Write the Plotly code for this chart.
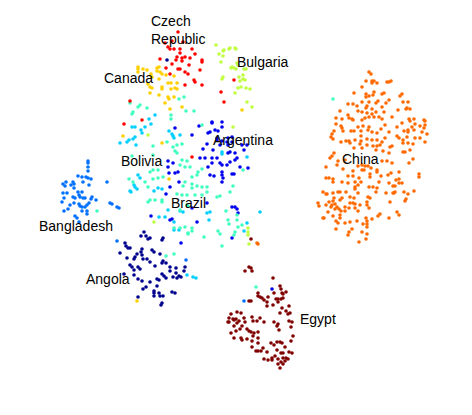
import plotly.graph_objects as go

# positions, one list of (x, y) per country
czech = [(178,32),(183,42),(172,41),(165,43),(168,47),(170,49),(174,49),(180,49),(192,49),(180,53),(195,54),(177,57),(182,58),(185,57),(190,58),(176,60),(182,61),(189,65),(202,60),(202,62),(160,59),(172,64),(166,68),(178,69),(180,69),(200,70),(185,72),(188,74),(170,74),(194,80),(195,82),(185,85),(202,85),(130,101),(142,120),(124,124),(221,92),(224,102),(234,80),(192,157)]
canada = [(138,67),(138,69),(138,72),(143,69),(147,70),(151,74),(152,77),(157,68),(159,67),(157,71),(160,72),(162,74),(159,79),(166,75),(174,76),(148,84),(150,87),(152,88),(150,93),(168,83),(171,83),(177,83),(162,87),(162,89),(171,89),(175,88),(177,89),(159,95),(168,97),(169,99),(174,97),(165,103),(170,109),(182,107),(242,110),(123,136),(162,143),(169,179),(137,301)]
bulgaria = [(216,45),(219,54),(223,51),(224,50),(229,49),(230,48),(235,48),(236,49),(223,56),(221,62),(237,63),(238,65),(231,68),(232,67),(234,68),(236,69),(244,69),(246,69),(223,77),(222,79),(243,75),(239,77),(243,79),(240,81),(245,80),(241,87),(238,88),(246,88),(250,89),(235,93),(247,102),(252,107),(233,127),(148,135),(154,222),(248,228),(248,232),(248,235),(249,244)]
bangladesh = [(88,161),(88,163),(88,167),(88,171),(78,176),(82,177),(86,177),(88,178),(91,179),(83,182),(89,185),(107,182),(63,184),(66,182),(65,186),(71,185),(73,182),(74,184),(74,188),(78,192),(82,192),(63,193),(67,193),(73,197),(75,198),(79,195),(80,197),(83,198),(85,198),(92,197),(91,199),(96,200),(64,198),(62,202),(74,203),(79,204),(80,206),(70,205),(82,207),(85,207),(87,205),(89,203),(64,211),(68,209),(82,211),(87,211),(87,214),(75,216),(77,218),(79,222),(110,203),(112,204),(117,207),(119,208),(117,241),(186,260),(244,301)]
bolivia = [(132,127),(141,130),(145,127),(142,133),(120,143),(127,142),(129,140),(133,139),(135,137),(136,145),(169,131),(172,134),(173,136),(174,138),(180,135),(138,175),(140,178),(134,185),(135,187),(137,189),(130,191),(131,192),(154,191),(158,188),(162,189),(168,210),(159,217),(165,217),(180,211),(183,212),(207,213),(210,212),(209,220),(174,222),(247,223),(244,231),(260,212),(222,152),(222,154),(247,157),(155,115),(149,119),(151,124),(135,127),(174,230),(179,230),(187,275),(193,277),(196,278)]
brazil = [(130,103),(140,105),(138,107),(147,108),(133,112),(132,114),(171,115),(171,119),(179,99),(184,97),(186,111),(194,111),(202,125),(153,146),(182,144),(177,145),(167,142),(173,147),(175,151),(177,153),(153,155),(132,156),(150,172),(153,170),(158,170),(182,160),(187,161),(180,165),(185,167),(190,167),(202,169),(198,172),(197,175),(192,177),(153,179),(158,178),(163,177),(129,179),(133,182),(145,182),(148,187),(185,182),(183,186),(192,184),(192,188),(197,186),(202,187),(207,187),(177,194),(182,195),(187,195),(195,195),(202,195),(207,192),(217,197),(220,196),(230,192),(233,186),(148,202),(150,200),(155,200),(162,200),(162,202),(187,205),(188,206),(180,210),(226,211),(228,220),(229,224),(235,232),(234,235),(238,227),(242,225),(237,220),(237,215),(218,231),(220,234),(222,246),(204,237),(174,228),(180,228),(192,228),(192,231),(188,233),(243,170),(166,256),(174,254),(185,227),(188,234),(97,211),(256,287),(333,99)]
argentina = [(175,128),(192,135),(199,126),(212,122),(212,123),(222,122),(222,127),(215,130),(210,132),(208,133),(218,131),(217,140),(228,138),(232,137),(227,142),(222,141),(217,138),(207,144),(203,149),(200,158),(205,158),(213,150),(220,145),(228,145),(232,142),(242,145),(247,145),(244,150),(230,152),(235,153),(228,153),(217,158),(212,158),(212,163),(208,167),(210,175),(214,176),(220,163),(222,165),(227,165),(230,162),(235,160),(237,158),(240,167),(248,168),(222,172),(222,175),(223,178),(222,182),(232,174),(234,174),(168,161),(173,163),(168,167),(169,173),(175,173),(178,172),(179,182),(170,187),(166,194),(197,222),(151,216),(170,220),(172,219),(181,243),(232,207),(235,207),(237,209),(238,213),(232,238),(192,208),(207,203),(272,289)]
angola = [(167,60),(144,232),(141,236),(146,236),(148,239),(150,238),(162,240),(163,238),(125,243),(126,246),(128,248),(130,248),(120,253),(142,249),(141,252),(137,254),(135,257),(142,255),(143,259),(134,259),(127,258),(147,259),(150,262),(152,250),(154,252),(160,254),(163,261),(162,263),(166,263),(155,266),(130,265),(132,267),(138,267),(140,269),(134,270),(124,274),(134,275),(138,279),(142,281),(170,267),(170,271),(176,268),(176,273),(179,276),(181,277),(185,267),(184,271),(162,274),(164,276),(166,278),(173,277),(177,278),(157,279),(159,280),(150,282),(146,287),(143,289),(157,286),(154,291),(154,293),(154,296),(159,293),(160,296),(163,296),(172,292),(175,293),(138,297),(161,305),(162,303)]
egypt = [(249,267),(251,268),(252,271),(245,271),(273,278),(280,286),(281,289),(286,292),(283,294),(282,293),(274,293),(258,293),(258,296),(260,297),(262,298),(264,300),(268,297),(267,302),(267,306),(273,305),(278,302),(276,299),(278,299),(281,299),(283,298),(249,301),(251,301),(282,308),(289,306),(286,311),(288,314),(290,313),(280,313),(289,321),(292,322),(291,327),(274,322),(278,324),(277,326),(279,330),(293,336),(291,341),(231,314),(229,318),(233,319),(228,322),(234,320),(236,319),(237,312),(241,313),(244,318),(245,322),(239,321),(237,323),(229,322),(234,326),(252,317),(253,321),(257,321),(260,318),(264,322),(242,326),(240,329),(236,331),(231,333),(247,329),(249,331),(251,332),(254,333),(258,332),(253,336),(258,338),(247,339),(241,338),(242,340),(234,338),(252,341),(252,347),(258,343),(258,351),(256,351),(261,351),(263,348),(267,352),(271,343),(274,345),(277,342),(280,342),(282,343),(285,347),(277,350),(281,353),(283,353),(289,352),(292,353),(275,356),(272,358),(272,360),(264,359),(268,360),(278,359),(283,358),(286,358),(288,359),(281,362),(285,361),(278,364),(283,364),(280,368),(251,239)]
china = [(369,72),(371,74),(366,81),(372,81),(374,81),(372,83),(377,83),(362,87),(387,82),(389,82),(391,81),(354,93),(366,94),(374,92),(369,96),(366,97),(373,95),(382,94),(384,93),(402,94),(400,96),(389,100),(362,102),(369,102),(376,103),(378,101),(386,103),(348,104),(353,104),(357,106),(367,106),(366,108),(382,107),(403,102),(408,102),(358,111),(372,109),(362,112),(367,113),(372,114),(376,112),(384,112),(398,110),(406,109),(407,108),(410,109),(340,111),(348,115),(349,118),(352,119),(353,120),(362,120),(365,118),(369,117),(374,117),(379,117),(382,119),(392,117),(336,118),(342,119),(336,124),(341,126),(342,128),(358,127),(363,126),(369,127),(385,125),(402,123),(409,119),(410,121),(414,119),(424,120),(425,121),(397,127),(415,124),(420,126),(425,125),(424,128),(412,127),(408,130),(404,131),(343,131),(351,131),(354,131),(368,130),(372,132),(377,133),(381,129),(389,132),(408,132),(414,130),(422,132),(427,134),(334,131),(332,134),(331,137),(333,139),(361,131),(361,136),(367,139),(372,140),(377,140),(385,138),(397,136),(399,138),(407,137),(415,138),(420,138),(403,140),(403,143),(346,141),(349,141),(341,142),(350,143),(355,140),(361,141),(360,144),(367,145),(373,146),(377,146),(380,145),(382,142),(390,147),(392,146),(408,143),(413,144),(425,142),(354,148),(383,151),(376,150),(389,153),(334,153),(403,152),(405,152),(410,150),(362,148),
         (332,156),(330,158),(326,167),(338,161),(337,165),(345,160),(343,169),(353,171),(358,166),(362,165),(365,166),(368,166),(371,168),(362,170),(364,170),(377,170),(377,172),(387,161),(392,163),(382,161),(409,163),(413,159),(391,173),(388,175),(381,176),(370,174),(370,177),(348,176),(353,176),(359,178),(326,178),(329,178),(333,179),(333,182),(342,182),(348,183),(355,182),(361,182),(358,185),(355,187),(355,189),(379,182),(399,172),(396,180),(399,179),(402,183),(399,183),(389,183),(393,186),(395,186),(419,174),(419,177),(373,187),(369,187),(377,188),(376,192),(414,191),(404,192),(408,194),(395,192),(393,193),(386,193),(323,192),(326,194),(327,194),(333,193),(338,192),(340,192),(346,192),(358,193),(368,197),(370,198),(390,202),(394,193),(406,199),(405,201),(334,198),(333,201),(342,198),(340,200),(350,197),(354,198),(318,203),(319,206),(326,205),(329,202),(332,205),(335,204),(331,207),(335,209),(337,207),(339,209),(350,203),(353,203),(360,205),(355,204),(367,202),(367,205),(369,208),(345,207),(349,208),(355,208),(358,211),(341,211),(345,211),(328,212),(333,216),(323,218),(324,218),(340,215),(340,218),(336,221),(338,223),(345,223),(350,222),(357,221),(366,218),(367,221),(372,219),(378,216),(380,214),(389,218),(397,212),(399,215),(363,224),(367,224),(367,227),(336,229),(352,229),(349,232),(348,235),(362,232),(367,234),(366,239),(359,242),(257,243),(258,244)]

groups = [
    ("Angola", angola, "#00008f"),
    ("Argentina", argentina, "#0000ef"),
    ("Bangladesh", bangladesh, "#0070ff"),
    ("Bolivia", bolivia, "#00cfff"),
    ("Brazil", brazil, "#40ffbf"),
    ("Bulgaria", bulgaria, "#bfff40"),
    ("Canada", canada, "#ffcf00"),
    ("China", china, "#ff6a00"),
    ("Czech Republic", czech, "#ff0000"),
    ("Egypt", egypt, "#800000"),
]

labels = ["Czech<br>Republic", "Canada", "Bulgaria", "Argentina", "Bolivia", "China", "Brazil", "Bangladesh", "Angola", "Egypt"]
label_x = [151, 104, 237, 213, 121, 342, 171, 39, 86, 300]
label_y = [30, 78, 62, 140, 161, 159, 203, 226, 279, 319]

fig = go.Figure()
for name, pts, color in groups:
    fig.add_trace(go.Scatter(
        x=[p[0] for p in pts],
        y=[p[1] for p in pts],
        mode="markers",
        name=name,
        marker=dict(color=color, size=3.6, line=dict(width=0)),
    ))

for text, x, y in zip(labels, label_x, label_y):
    fig.add_annotation(x=x, y=y, text=text, showarrow=False, xanchor="left", yanchor="middle",
                       align="left", borderpad=0, borderwidth=0,
                       font=dict(family="Liberation Sans", size=14, color="black"))

# the page body has an 8px margin, so the plot is 8px smaller and its ranges start at 8
fig.update_layout(
    width=464,
    height=407,
    margin=dict(l=0, r=0, t=0, b=0),
    paper_bgcolor="white",
    plot_bgcolor="white",
    showlegend=False,
    xaxis=dict(range=[8, 472], visible=False),
    yaxis=dict(range=[415, 8], visible=False),
)

fig.write_html("out.html")
